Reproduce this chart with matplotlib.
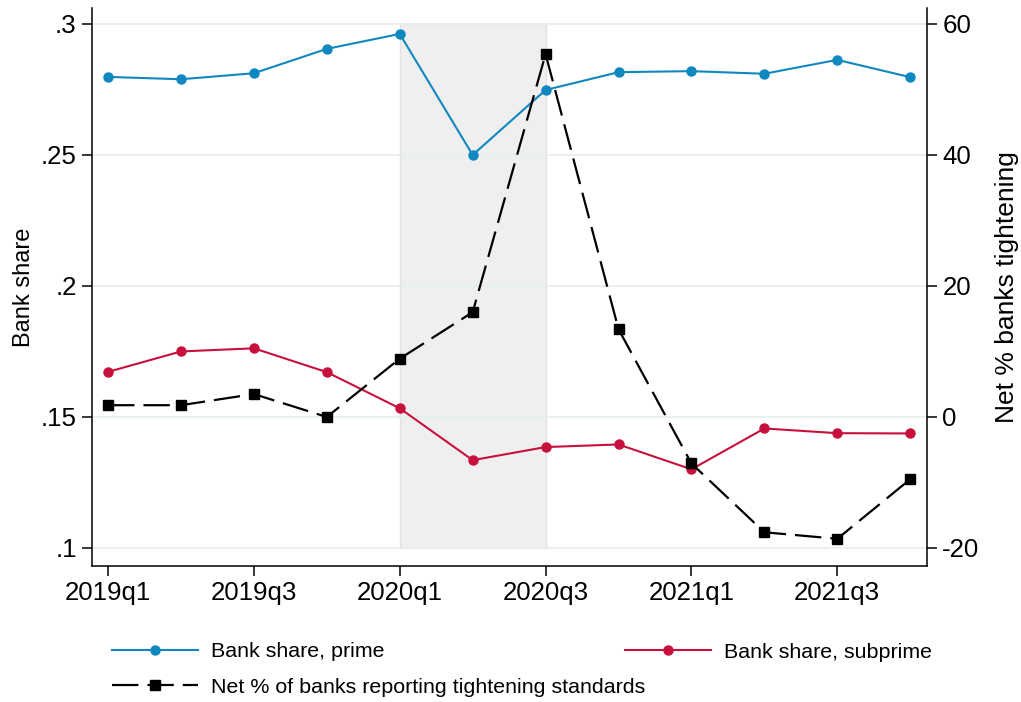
import matplotlib
matplotlib.use("Agg")
import matplotlib.pyplot as plt
from matplotlib.lines import Line2D

plt.rcParams["font.family"] = ["Liberation Sans", "DejaVu Sans"]
plt.rcParams["lines.scale_dashes"] = False

# Quarterly data, 2019q1 - 2021q4
quarters = ["2019q1", "2019q2", "2019q3", "2019q4",
            "2020q1", "2020q2", "2020q3", "2020q4",
            "2021q1", "2021q2", "2021q3", "2021q4"]
share_prime = [0.2798, 0.2789, 0.2812, 0.2905, 0.2962, 0.2500,
               0.2748, 0.2816, 0.2820, 0.2810, 0.2863, 0.2797]
share_subprime = [0.1672, 0.1750, 0.1762, 0.1671, 0.1533, 0.1335,
                  0.1385, 0.1395, 0.1300, 0.1456, 0.1438, 0.1437]
net_tightening = [1.8, 1.8, 3.5, 0.0, 8.9, 16.0,
                  55.4, 13.4, -7.1, -17.6, -18.6, -9.5]

left_ticks = [0.1, 0.15, 0.2, 0.25, 0.3]
left_ticklabels = [".1", ".15", ".2", ".25", ".3"]
right_ticks = [-20, 0, 20, 40, 60]
xtick_idx = [0, 2, 4, 6, 8, 10]

# Shaded pandemic window (2020q1 to 2020q3)
shade_start, shade_end = "2020q1", "2020q3"

BLUE = "#0f88c0"
RED = "#c8103c"
GRID = "#e6eff1"

x = list(range(len(quarters)))

fig = plt.figure(figsize=(10.21, 7.02), dpi=100)
ax = fig.add_axes([92 / 1021, 1 - 566 / 702, (927 - 92) / 1021, (566 - 8) / 702])
ax2 = ax.twinx()

# Shaded region
xs0, xs1 = quarters.index(shade_start), quarters.index(shade_end)
ax.fill_between([xs0, xs1], left_ticks[0], left_ticks[-1],
                facecolor="#efefef", edgecolor="#e2e2e2", linewidth=1.0, zorder=0.2)

# Gridlines at left ticks
for yv in left_ticks:
    ax.axhline(yv, color=GRID, linewidth=1.3, zorder=0.5)

ax.plot(x, share_prime, color=BLUE, linewidth=1.5, marker="o", markersize=6.5,
        zorder=3, label="Bank share, prime")
ax.plot(x, share_subprime, color=RED, linewidth=1.5, marker="o", markersize=6.5,
        zorder=3, label="Bank share, subprime")
ax2.plot(x, net_tightening, color="black", linewidth=1.6, marker="s", markersize=7,
         dashes=(19, 6.5), zorder=3,
         label="Net % of banks reporting tightening standards")

ax.set_xlim(-0.22, 11.23)
ax.set_ylim(0.0931, 0.3061)
ax2.set_ylim(-22.75, 62.44)

ax.set_xticks(xtick_idx)
ax.set_xticklabels([quarters[i] for i in xtick_idx])
ax.set_yticks(left_ticks)
ax.set_yticklabels(left_ticklabels)
ax2.set_yticks(right_ticks)
ax2.set_yticklabels([str(v) for v in right_ticks])

for a in (ax, ax2):
    a.spines["top"].set_visible(False)
    for s in ("left", "right", "bottom"):
        a.spines[s].set_linewidth(1.1)
    a.tick_params(axis="both", direction="out", length=7, width=1.1,
                  labelsize=18.6, pad=4)
ax.spines["right"].set_visible(False)
ax2.spines["left"].set_visible(False)
ax2.spines["bottom"].set_visible(False)

ax.set_ylabel("Bank share", fontsize=17, labelpad=4)
ax2.set_ylabel("Net % banks tightening", fontsize=19, labelpad=11)

# Legend below the plot area
h_prime = Line2D([], [], color=BLUE, linewidth=1.5, marker="o", markersize=6.5)
h_sub = Line2D([], [], color=RED, linewidth=1.5, marker="o", markersize=6.5)
h_net = Line2D([], [], color="black", linewidth=1.6, marker="s", markersize=7,
               dashes=(19, 6.5))

common = dict(frameon=False, fontsize=15.4, handlelength=4.0, handletextpad=0.65,
              borderpad=0, borderaxespad=0, labelspacing=0.75, numpoints=1)
leg1 = fig.legend([h_prime, h_net],
                  ["Bank share, prime", "Net % of banks reporting tightening standards"],
                  loc="center left", bbox_to_anchor=(112 / 1021, 1 - 669.5 / 702), **common)
leg2 = fig.legend([h_sub], ["Bank share, subprime"],
                  loc="center left", bbox_to_anchor=(625 / 1021, 1 - 652 / 702), **common)

fig.savefig("out.png", dpi=100)
